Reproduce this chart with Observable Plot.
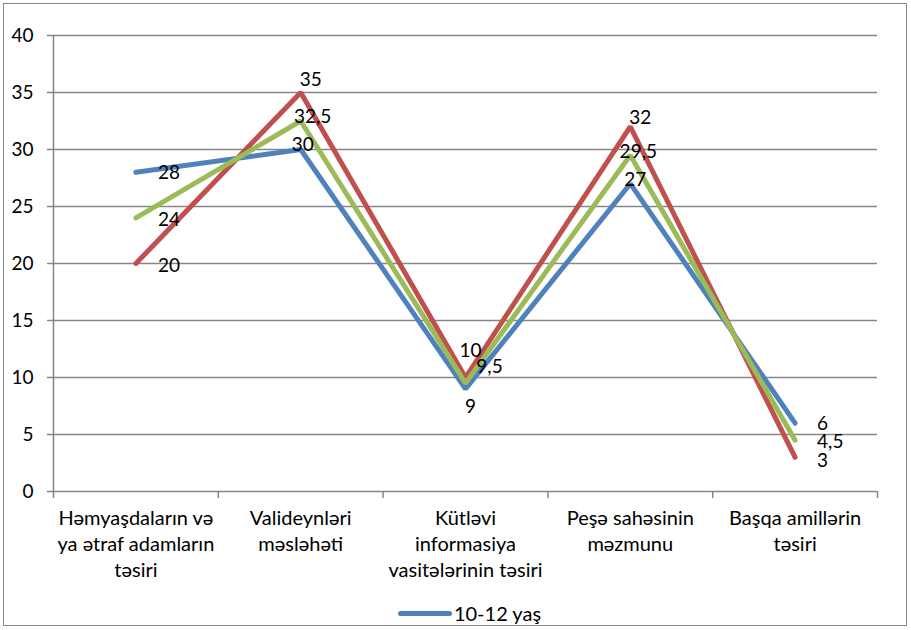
<!DOCTYPE html>
<html>
<head>
<meta charset="utf-8">
<script src="https://cdn.jsdelivr.net/npm/d3@7"></script>
<script src="https://cdn.jsdelivr.net/npm/@observablehq/plot@0.6"></script>
<style>
  html, body { margin: 0; padding: 0; background: #fff; }
  #wrap { position: relative; width: 911px; height: 630px; overflow: hidden; font-family: Lato, "Liberation Sans", sans-serif; }
  #frame { position: absolute; left: 3px; top: 3px; width: 902px; height: 621px; border: 1.5px solid #868686; pointer-events: none; }
  #chart { position: absolute; left: 0; top: 0; }
  #legend { position: absolute; left: 14px; top: 601px; width: 911px; height: 24px; display: flex; justify-content: center; align-items: center; font-size: 20px; color: #000; }
  #legend .sw { display: inline-block; width: 54px; height: 5px; border-radius: 3px; margin-right: 2px; }
</style>
</head>
<body>
<div id="wrap">
  <div id="chart"></div>
  <div id="legend"></div>
  <div id="frame"></div>
</div>
<script>
// ---- data ----
const categories = [
  "Həmyaşdaların və\nya ətraf adamların\ntəsiri",
  "Valideynləri\nməsləhəti",
  "Kütləvi\ninformasiya\nvasitələrinin təsiri",
  "Peşə sahəsinin\nməzmunu",
  "Başqa amillərin\ntəsiri"
];
const seriesNames = ["10-12 yaş", "Seriya 2", "Seriya 3"];
const blueValues  = [28, 30, 9, 27, 6];
const greenValues = [24, 32.5, 9.5, 29.5, 4.5];
const redValues   = [20, 35, 10, 32, 3];
const yTicks = [0, 5, 10, 15, 20, 25, 30, 35, 40];
const legendShown = ["10-12 yaş"];

// ---- styling (label nudges, colours) ----
const colors = { blue: "#4F81BD", red: "#C0504D", green: "#9BBB59" };
// [anchor, dx, dy] per category for each series
const nudgeBlue  = [["start",22,1],["middle",2,-5],["middle",5,18],["middle",5,-4],["start",22,1]];
const nudgeGreen = [["start",22,2],["middle",12,-4],["middle",24,-16],["middle",8,-3],["start",22,2]];
const nudgeRed   = [["start",22,2],["middle",10,-13],["middle",5,-27],["middle",10,-9],["start",22,4]];

const series = [
  { name: seriesNames[0], values: blueValues,  color: colors.blue,  nudge: nudgeBlue },
  { name: seriesNames[2], values: redValues,   color: colors.red,   nudge: nudgeRed },
  { name: seriesNames[1], values: greenValues, color: colors.green, nudge: nudgeGreen }
];

const fmt = v => String(v).replace(".", ",");
const gray = "#868686";

const lineMarks = series.map(s => Plot.line(
  s.values.map((v, i) => ({ i, v })),
  { x: "i", y: "v", stroke: s.color, strokeWidth: 5, strokeLinecap: "round", strokeLinejoin: "miter" }
));

const labelMarks = series.flatMap(s => s.values.map((v, i) => Plot.text([{ i, v }], {
  x: "i", y: "v", text: d => fmt(d.v),
  textAnchor: s.nudge[i][0], dx: s.nudge[i][1], dy: s.nudge[i][2],
  fill: "#000", fontSize: 19
})));

const boundaries = d3.range(categories.length + 1).map(k => k - 0.5);

const chart = Plot.plot({
  width: 911,
  height: 590,
  marginLeft: 53,
  marginRight: 34,
  marginTop: 35,
  marginBottom: 99,
  style: { fontFamily: "Lato, 'Liberation Sans', sans-serif", fontSize: "20px", color: "#000", background: "transparent" },
  x: { domain: [-0.5, categories.length - 0.5], axis: null },
  y: { domain: [0, 40], axis: null },
  marks: [
    Plot.gridY(yTicks, { stroke: gray, strokeOpacity: 1, strokeWidth: 1.5 }),
    Plot.axisY(yTicks, { tickSize: 6, tickPadding: 14, stroke: gray, strokeWidth: 1.5, fontSize: 19, label: null }),
    Plot.ruleX([-0.5], { stroke: gray, strokeWidth: 1.5 }),
    Plot.axisX(boundaries, { tickSize: 7, tickFormat: () => "", stroke: gray, strokeWidth: 1.5, label: null }),
    Plot.axisX(d3.range(categories.length), { tickSize: 0, tickPadding: 15, tickFormat: i => categories[i], lineHeight: 1.3, fontSize: 20, label: null }),
    ...lineMarks,
    ...labelMarks
  ]
});
document.getElementById("chart").appendChild(chart);

// legend (only the visible entry of the cropped original)
const lg = document.getElementById("legend");
legendShown.forEach(name => {
  const s = series.find(d => d.name === name);
  const item = document.createElement("span");
  item.style.display = "inline-flex";
  item.style.alignItems = "center";
  item.innerHTML = `<span class="sw" style="background:${s.color}"></span><span>${name}</span>`;
  lg.appendChild(item);
});
</script>
</body>
</html>
